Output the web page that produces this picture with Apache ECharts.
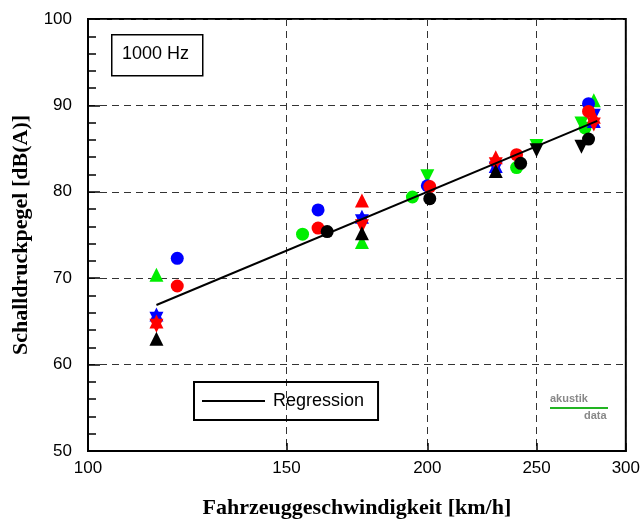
<!DOCTYPE html>
<html>
<head>
<meta charset="utf-8">
<script src="https://cdn.jsdelivr.net/npm/echarts@6/dist/echarts.min.js"></script>
<style>
  html, body { margin: 0; padding: 0; background: #fff; }
  #chart { width: 643px; height: 529px; }
</style>
</head>
<body>
<div id="chart"></div>
<script>
// Achsenbeschriftung x (log)
const xTicks = [100, 150, 200, 250, 300]

// Regression (Pegel ueber log(v))
const regression = [[115, 66.9], [283, 88.2]]

// Messwerte [km/h, dB(A)]
const blueCircle = [[120, 72.3], [160, 77.9], [200, 80.7], [278, 90.2]]
const blueUp = [[115, 65.8], [175, 77.1], [230, 83.0], [281, 88.2]]
const blueDown = [[115, 65.3], [175, 76.6], [230, 82.7], [281, 88.8]]

const redCircle = [[120, 69.1], [160, 75.8], [201, 80.6], [240, 84.3], [278, 89.3]]
const redUp = [[115, 65.0], [175, 79.0], [230, 84.0], [281, 88.7]]
const redDown = [[115, 64.5], [175, 76.0], [230, 83.2], [281, 87.8]]

const greenCircle = [[155, 75.1], [194, 79.4], [240, 82.8], [276, 87.4]]
const greenUp = [[115, 70.4], [175, 74.2], [281, 90.6]]
const greenDown = [[200, 81.8], [250, 85.3], [274, 87.9]]

const blackCircle = [[163, 75.4], [201, 79.2], [242, 83.3], [278, 86.1]]
const blackUp = [[115, 63.0], [175, 75.2], [230, 82.4]]
const blackDown = [[250, 84.8], [274, 85.2]]

const colors = {
  blue: '#0000ff',
  red: '#ff0000',
  green: '#00ee00',
  black: '#000000'
}

function scatter(data, color, shape) {
  return {
    type: 'scatter',
    data,
    symbol: shape === 'circle' ? 'circle' : 'triangle',
    symbolRotate: shape === 'down' ? 180 : 0,
    symbolSize: shape === 'circle' ? 13 : 14,
    itemStyle: { color, opacity: 1 },
    silent: true
  }
}

const chart = echarts.init(document.getElementById('chart'), null, { renderer: 'canvas' })

const gridLine = { show: true, lineStyle: { color: '#333', type: [7, 5], width: 1 } }

const option = {
  animation: false,
  backgroundColor: '#fff',
  textStyle: { fontFamily: 'Liberation Sans' },
  grid: {
    left: 88, right: 16, top: 19, bottom: 78,
    show: true, borderColor: '#000', borderWidth: 2
  },
  legend: {
    data: [{ name: 'Regression', icon: 'rect' }],
    left: 194, top: 382,
    orient: 'horizontal',
    borderColor: '#000', borderWidth: 2,
    padding: [10, 14, 10, 8],
    itemWidth: 63, itemHeight: 2,
    itemStyle: { color: '#000' },
    textStyle: { fontSize: 18, color: '#000', fontFamily: 'Liberation Sans', padding: [0, 0, 0, 3] }
  },
  xAxis: {
    type: 'log',
    logBase: 10,
    min: 100,
    max: 300,
    axisLine: { show: true, lineStyle: { color: '#000', width: 2 } },
    axisTick: { show: true, inside: true, length: 8, customValues: xTicks, lineStyle: { color: '#000', width: 1.5 } },
    axisLabel: { customValues: xTicks, fontSize: 17, color: '#000', margin: 9, fontFamily: 'Liberation Sans' },
    splitLine: gridLine,
    name: 'Fahrzeuggeschwindigkeit [km/h]',
    nameLocation: 'middle',
    nameGap: 46,
    nameTextStyle: { fontFamily: 'Liberation Serif', fontWeight: 'bold', fontSize: 22, color: '#000' }
  },
  yAxis: {
    type: 'value',
    min: 50,
    max: 100,
    interval: 10,
    axisLine: { show: true, lineStyle: { color: '#000', width: 2 } },
    axisTick: { show: true, inside: true, length: 12, lineStyle: { color: '#000', width: 1.5 } },
    minorTick: { show: true, splitNumber: 5, length: 8, lineStyle: { color: '#000', width: 1.5 } },
    axisLabel: { fontSize: 17, color: '#000', margin: 16, fontFamily: 'Liberation Sans' },
    splitLine: gridLine,
    name: 'Schalldruckpegel [dB(A)]',
    nameLocation: 'middle',
    nameGap: 48,
    nameTextStyle: { fontFamily: 'Liberation Serif', fontWeight: 'bold', fontSize: 22, color: '#000' }
  },
  series: [
    scatter(greenCircle, colors.green, 'circle'),
    scatter(greenUp, colors.green, 'up'),
    scatter(greenDown, colors.green, 'down'),
    scatter(blueCircle, colors.blue, 'circle'),
    scatter(blueUp, colors.blue, 'up'),
    scatter(blueDown, colors.blue, 'down'),
    scatter(redCircle, colors.red, 'circle'),
    scatter(redUp, colors.red, 'up'),
    scatter(redDown, colors.red, 'down'),
    scatter(blackCircle, colors.black, 'circle'),
    scatter(blackUp, colors.black, 'up'),
    scatter(blackDown, colors.black, 'down'),
    {
      name: 'Regression',
      type: 'line',
      data: regression,
      symbol: 'none',
      lineStyle: { color: '#000', width: 2 },
      itemStyle: { color: '#000' },
      z: 5
    }
  ],
  graphic: [
    {
      type: 'rect',
      left: 111, top: 34,
      shape: { width: 91, height: 41 },
      style: { fill: '#fff', stroke: '#000', lineWidth: 1.5 },
      z: 10
    },
    {
      type: 'text',
      left: 122, top: 45,
      style: { text: '1000 Hz', fontSize: 18, fontFamily: 'Liberation Sans', fill: '#000' },
      z: 11
    },
    {
      type: 'text',
      left: 550, top: 393,
      style: { text: 'akustik', fontSize: 11, fontWeight: 'bold', fontFamily: 'Liberation Sans', fill: '#888' },
      z: 11
    },
    {
      type: 'line',
      shape: { x1: 550, y1: 408, x2: 608, y2: 408 },
      style: { stroke: '#22b422', lineWidth: 2 },
      z: 11
    },
    {
      type: 'text',
      left: 584, top: 410,
      style: { text: 'data', fontSize: 11, fontWeight: 'bold', fontFamily: 'Liberation Sans', fill: '#888' },
      z: 11
    }
  ]
}

chart.setOption(option)
</script>
</body>
</html>
